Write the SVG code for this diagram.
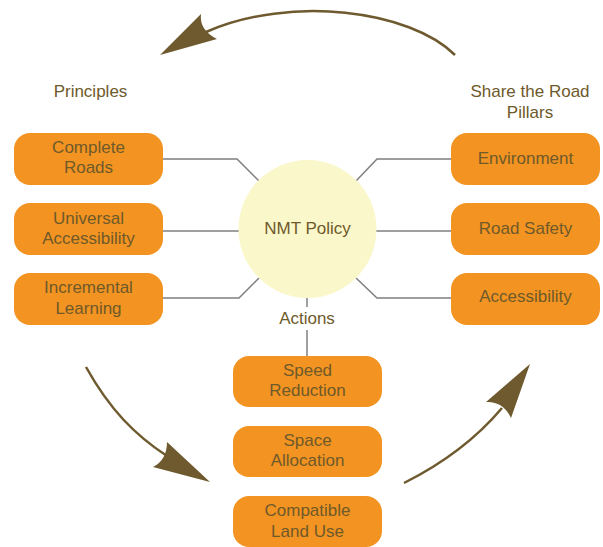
<svg xmlns="http://www.w3.org/2000/svg" width="603" height="547" viewBox="0 0 603 547">
<defs>
<style>
.box{fill:#F39321;}
.t{font-family:"Liberation Sans",Arial,sans-serif;font-size:17px;fill:#6E5A2A;text-anchor:middle;}
.lbl{font-family:"Liberation Sans",Arial,sans-serif;font-size:17px;fill:#6E5A2A;text-anchor:middle;}
.conn{fill:none;stroke:#7F7F7F;stroke-width:1.5;}
.arc{fill:none;stroke:#6E5A2E;stroke-width:2.5;}
.head{fill:#6E5A2E;}
</style>
</defs>
<rect width="603" height="547" fill="#FFFFFF"/>
<g id="connectors">
<polyline class="conn" points="163,159 237,159 259,181"/>
<polyline class="conn" points="163,231 240,231"/>
<polyline class="conn" points="163,298 239,298 259,278"/>
<polyline class="conn" points="451,159 377,159 356,181"/>
<polyline class="conn" points="451,231 376,231"/>
<polyline class="conn" points="451,298 377,298 356,278"/>
<line class="conn" x1="307" y1="297" x2="307" y2="307"/>
<line class="conn" x1="307" y1="330" x2="307" y2="356"/>
</g>
<g id="cycle-arrows">
<path class="arc" d="M455,55 C410,10 290,-5 206,32"/>
<path class="head" d="M160,55 L201,14 Q199,30 217,39 Z"/>
<path class="arc" d="M86,367 C110,410 135,435 167,456"/>
<path class="head" d="M210,482 L153,467 Q167,460 167,442 Z"/>
<path class="arc" d="M404,483 C440,465 475,440 502,408"/>
<path class="head" d="M530,364 L486,402 Q503,401 511,418 Z"/>
</g>
<g id="policy">
<circle cx="307.5" cy="229" r="69" fill="#FAF7CB"/>
<text class="t" x="307.5" y="234">NMT Policy</text>
</g>
<g id="label-principles"><text class="lbl" x="90.5" y="97">Principles</text></g>
<g id="label-pillars"><text class="lbl" x="530" y="97">Share the Road</text><text class="lbl" x="530" y="118">Pillars</text></g>
<g id="label-actions"><text class="lbl" x="307" y="324">Actions</text></g>
<g id="complete-roads"><rect class="box" x="14" y="133" width="149" height="52" rx="16"/><text class="t" x="88.5" y="153">Complete</text><text class="t" x="88.5" y="173">Roads</text></g>
<g id="universal-accessibility"><rect class="box" x="14" y="203" width="149" height="52" rx="16"/><text class="t" x="88.5" y="224">Universal</text><text class="t" x="88.5" y="244">Accessibility</text></g>
<g id="incremental-learning"><rect class="box" x="14" y="273" width="149" height="52" rx="16"/><text class="t" x="88.5" y="293">Incremental</text><text class="t" x="88.5" y="314">Learning</text></g>
<g id="environment"><rect class="box" x="451" y="133" width="149" height="52" rx="16"/><text class="t" x="525.5" y="164">Environment</text></g>
<g id="road-safety"><rect class="box" x="451" y="203" width="149" height="52" rx="16"/><text class="t" x="525.5" y="234">Road Safety</text></g>
<g id="accessibility"><rect class="box" x="451" y="273" width="149" height="52" rx="16"/><text class="t" x="525.5" y="302">Accessibility</text></g>
<g id="speed-reduction"><rect class="box" x="233" y="356" width="149" height="51" rx="16"/><text class="t" x="307.5" y="376">Speed</text><text class="t" x="307.5" y="396">Reduction</text></g>
<g id="space-allocation"><rect class="box" x="233" y="426" width="149" height="51" rx="16"/><text class="t" x="307.5" y="446">Space</text><text class="t" x="307.5" y="466">Allocation</text></g>
<g id="compatible-land-use"><rect class="box" x="233" y="496" width="149" height="51" rx="16"/><text class="t" x="307.5" y="516">Compatible</text><text class="t" x="307.5" y="537">Land Use</text></g>
</svg>
